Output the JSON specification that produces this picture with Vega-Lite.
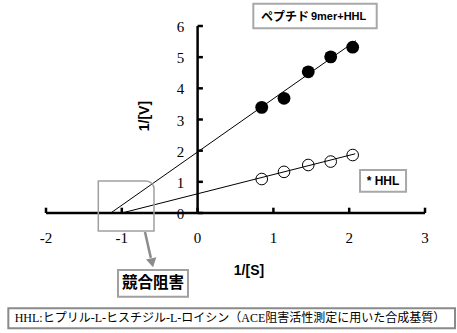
{
  "$schema": "https://vega.github.io/schema/vega-lite/v6.json",
  "width": 379,
  "height": 187,
  "autosize": "none",
  "padding": {"left": 46, "top": 26, "right": 32, "bottom": 120},
  "background": "white",
  "config": {
    "view": {"stroke": null},
    "axis": {"disable": true}
  },
  "data": {"values": [{}]},
  "datasets": {
    "points": [
      {"series": "peptide", "x": 0.846, "y": 3.39},
      {"series": "peptide", "x": 1.14, "y": 3.68},
      {"series": "peptide", "x": 1.46, "y": 4.53},
      {"series": "peptide", "x": 1.756, "y": 5.01},
      {"series": "peptide", "x": 2.046, "y": 5.32},
      {"series": "HHL", "x": 0.846, "y": 1.09},
      {"series": "HHL", "x": 1.14, "y": 1.32},
      {"series": "HHL", "x": 1.46, "y": 1.54},
      {"series": "HHL", "x": 1.756, "y": 1.65},
      {"series": "HHL", "x": 2.046, "y": 1.86}
    ],
    "lines": [
      {"series": "peptide", "x": -1.146, "y": 0},
      {"series": "peptide", "x": 2.09, "y": 5.53},
      {"series": "HHL", "x": -1.0, "y": 0},
      {"series": "HHL", "x": 2.08, "y": 1.9}
    ],
    "xticks": [
      {"v": -2, "label": "-2"},
      {"v": -1, "label": "-1"},
      {"v": 0, "label": "0"},
      {"v": 1, "label": "1"},
      {"v": 2, "label": "2"},
      {"v": 3, "label": "3"}
    ],
    "yticks": [
      {"v": 0, "label": "0"},
      {"v": 1, "label": "1"},
      {"v": 2, "label": "2"},
      {"v": 3, "label": "3"},
      {"v": 4, "label": "4"},
      {"v": 5, "label": "5"},
      {"v": 6, "label": "6"}
    ]
  },
  "layer": [
    {
      "data": {"name": "lines"},
      "mark": {"type": "line", "color": "black", "strokeWidth": 1},
      "encoding": {
        "x": {"field": "x", "type": "quantitative", "scale": {"domain": [-2, 3], "nice": false, "zero": false}, "axis": null},
        "y": {"field": "y", "type": "quantitative", "scale": {"domain": [0, 6], "nice": false, "zero": false}, "axis": null},
        "detail": {"field": "series"}
      }
    },
    {
      "mark": {"type": "rule", "color": "black", "strokeWidth": 2.5},
      "encoding": {"x": {"datum": -2}, "x2": {"datum": 3}, "y": {"datum": 0}}
    },
    {
      "mark": {"type": "rule", "color": "black", "strokeWidth": 2.5},
      "encoding": {"x": {"datum": 0}, "y": {"datum": 0}, "y2": {"datum": 6}}
    },
    {
      "data": {"name": "xticks"},
      "mark": {"type": "rule", "color": "black", "strokeWidth": 2.5},
      "encoding": {"x": {"field": "v", "type": "quantitative", "axis": null}, "y": {"datum": 0}, "y2": {"datum": 0.17}}
    },
    {
      "data": {"name": "yticks"},
      "mark": {"type": "rule", "color": "black", "strokeWidth": 2.5},
      "encoding": {"x": {"datum": 0}, "x2": {"datum": 0.07}, "y": {"field": "v", "type": "quantitative", "axis": null}}
    },
    {
      "data": {"name": "xticks"},
      "mark": {"type": "text", "align": "center", "baseline": "middle", "font": "Liberation Serif", "fontSize": 15, "color": "black"},
      "encoding": {"x": {"field": "v", "type": "quantitative", "axis": null}, "y": {"datum": -0.8}, "text": {"field": "label"}}
    },
    {
      "data": {"name": "yticks"},
      "mark": {"type": "text", "align": "center", "baseline": "middle", "dy": 1, "font": "Liberation Serif", "fontSize": 15, "color": "black"},
      "encoding": {"x": {"datum": -0.226}, "y": {"field": "v", "type": "quantitative", "axis": null}, "text": {"field": "label"}}
    },
    {
      "mark": {"type": "text", "text": "1/[V]", "angle": 270, "align": "center", "baseline": "middle", "font": "Liberation Sans", "fontWeight": "bold", "fontSize": 14, "color": "black"},
      "encoding": {"x": {"datum": -0.693}, "y": {"datum": 3.11}}
    },
    {
      "mark": {"type": "text", "text": "1/[S]", "align": "center", "baseline": "middle", "font": "Liberation Sans", "fontWeight": "bold", "fontSize": 14, "color": "black"},
      "encoding": {"x": {"datum": 0.678}, "y": {"datum": -1.86}}
    },
    {
      "data": {"name": "points"},
      "transform": [{"filter": "datum.series === 'peptide'"}],
      "mark": {"type": "circle", "size": 165, "color": "black", "opacity": 1},
      "encoding": {
        "x": {"field": "x", "type": "quantitative", "axis": null},
        "y": {"field": "y", "type": "quantitative", "axis": null}
      }
    },
    {
      "data": {"name": "points"},
      "transform": [{"filter": "datum.series === 'HHL'"}],
      "mark": {"type": "point", "shape": "circle", "size": 135, "filled": false, "color": "black", "strokeWidth": 1, "opacity": 1},
      "encoding": {
        "x": {"field": "x", "type": "quantitative", "axis": null},
        "y": {"field": "y", "type": "quantitative", "axis": null}
      }
    },
    {
      "mark": {"type": "rect", "fill": "white", "stroke": "#a8a8a8", "strokeWidth": 2},
      "encoding": {"x": {"datum": 0.735}, "x2": {"datum": 2.363}, "y": {"datum": 6.71}, "y2": {"datum": 5.93}}
    },
    {
      "mark": {"type": "text", "text": "ペプチド", "align": "left", "baseline": "middle", "font": "Noto Sans CJK JP", "fontWeight": "bold", "fontSize": 12, "color": "black"},
      "encoding": {"x": {"datum": 0.837}, "y": {"datum": 6.29}}
    },
    {
      "mark": {"type": "text", "text": "9mer+HHL", "align": "left", "baseline": "middle", "font": "Liberation Sans", "fontWeight": "bold", "fontSize": 11, "color": "black"},
      "encoding": {"x": {"datum": 1.495}, "y": {"datum": 6.29}}
    },
    {
      "mark": {"type": "rect", "fill": "white", "stroke": "#a8a8a8", "strokeWidth": 2},
      "encoding": {"x": {"datum": 2.143}, "x2": {"datum": 2.75}, "y": {"datum": 1.38}, "y2": {"datum": 0.68}}
    },
    {
      "mark": {"type": "text", "text": "* HHL", "align": "center", "baseline": "middle", "font": "Liberation Sans", "fontWeight": "bold", "fontSize": 12, "color": "black"},
      "encoding": {"x": {"datum": 2.446}, "y": {"datum": 1.03}}
    },
    {
      "mark": {"type": "rect", "fill": "transparent", "stroke": "#a0a0a0", "strokeWidth": 1.5, "cornerRadiusTopRight": 8},
      "encoding": {"x": {"datum": -1.31}, "x2": {"datum": -0.575}, "y": {"datum": 1.03}, "y2": {"datum": -0.58}}
    },
    {
      "mark": {"type": "rule", "color": "#8c8c8c", "strokeWidth": 2.5},
      "encoding": {"x": {"datum": -0.694}, "x2": {"datum": -0.617}, "y": {"datum": -0.61}, "y2": {"datum": -1.44}}
    },
    {
      "mark": {"type": "point", "shape": "triangle-down", "size": 110, "filled": true, "color": "#8c8c8c", "opacity": 1, "angle": 348},
      "encoding": {"x": {"datum": -0.60}, "y": {"datum": -1.60}}
    },
    {
      "mark": {"type": "rect", "fill": "white", "stroke": "#a0a0a0", "strokeWidth": 2},
      "encoding": {"x": {"datum": -1.05}, "x2": {"datum": -0.127}, "y": {"datum": -1.83}, "y2": {"datum": -2.69}}
    },
    {
      "mark": {"type": "text", "text": "競合阻害", "align": "center", "baseline": "middle", "font": "Noto Sans CJK JP", "fontWeight": "bold", "fontSize": 15.5, "color": "black"},
      "encoding": {"x": {"datum": -0.588}, "y": {"datum": -2.26}}
    },
    {
      "mark": {"type": "rect", "fill": "white", "stroke": "#8a8a8a", "strokeWidth": 2},
      "encoding": {"x": {"datum": -2.497}, "x2": {"datum": 3.396}, "y": {"datum": -3.06}, "y2": {"datum": -3.70}}
    },
    {
      "mark": {"type": "text", "text": "HHL:ヒプリル-L-ヒスチジル-L-ロイシン（ACE阻害活性測定に用いた合成基質）", "align": "center", "baseline": "middle", "font": "Liberation Serif, Noto Sans CJK JP", "fontSize": 12, "color": "black"},
      "encoding": {"x": {"datum": 0.427}, "y": {"datum": -3.37}}
    }
  ]
}
